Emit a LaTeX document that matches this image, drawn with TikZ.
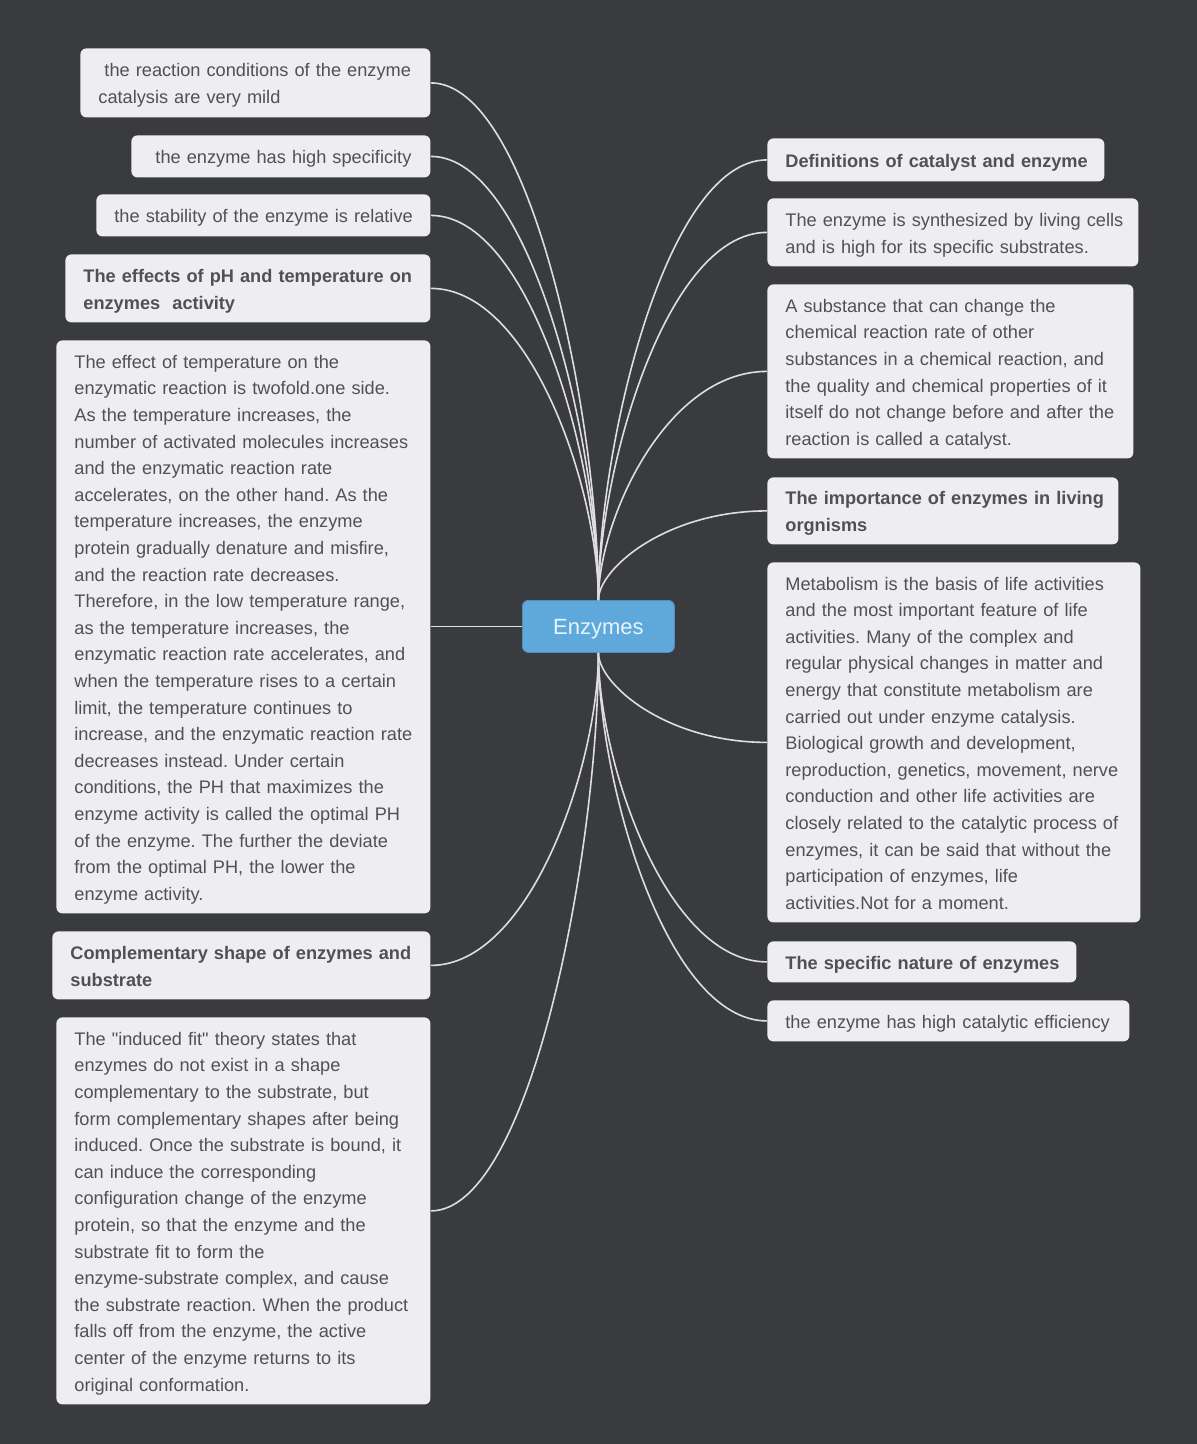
\documentclass[tikz,border=0pt]{standalone}
\usepackage{fontspec}
\usetikzlibrary{calc}
\setmainfont{Liberation Sans}
\frenchspacing
\definecolor{bgc}{RGB}{58,59,63}
\definecolor{boxc}{RGB}{238,237,241}
\definecolor{txtc}{RGB}{80,80,86}
\definecolor{ctrc}{RGB}{95,168,220}
\definecolor{ctrt}{RGB}{232,244,252}
\definecolor{linec}{RGB}{222,222,226}
\newcommand{\mylines}[1]{\raisebox{-1pt}[\height][\depth]{\begin{tabular}{@{}l@{}}#1\end{tabular}}}
\tikzset{
  box/.style={rectangle, rounded corners=3pt, fill=boxc, text=txtc, anchor=north west,
    font=\fontsize{9.1}{13.3}\selectfont\frenchspacing, align=left, inner xsep=9pt, inner ysep=0pt},
  hd/.style={box, font=\fontsize{9.1}{13.3}\selectfont\frenchspacing\bfseries},
  ctr/.style={rectangle, rounded corners=3pt, fill=ctrc, draw=ctrc!85!black, line width=0.4pt,
    text=ctrt, font=\fontsize{11}{13}\selectfont, anchor=north west, inner sep=0pt},
  conn/.style={draw=linec, line width=0.8pt},
  % from a box edge (horizontal) to the centre node (vertical)
  hv/.style={to path={let \p1=(\tikztostart), \p2=(\tikztotarget) in
    .. controls ({\x1+0.6*(\x2-\x1)},\y1) and (\x2,{\y2+0.35*(\y1-\y2)}) .. (\tikztotarget)}},
  % from the centre node (vertical) to a box edge (horizontal)
  vh/.style={to path={let \p1=(\tikztostart), \p2=(\tikztotarget) in
    .. controls (\x1,{\y1+0.35*(\y2-\y1)}) and ({\x2-0.6*(\x2-\x1)},\y2) .. (\tikztotarget)}}
}
\begin{document}
\begin{tikzpicture}[x=0.5pt,y=-0.5pt]
\fill[bgc] (0,0) rectangle (1197,1444);
\useasboundingbox (0,0) rectangle (1197,1444);

\node[ctr, minimum width=76pt, minimum height=26pt] (c) at (522,600) {\raisebox{-1.5pt}[\height][\depth]{Enzymes}};

% left column
\node[box, minimum width=175pt, minimum height=34.5pt, text width=157pt] (l1) at (80,48)
  {\mylines{\ the reaction conditions of the enzyme\\catalysis are very mild}};
\node[box, minimum width=149.5pt, minimum height=21pt, text width=131.5pt] (l2) at (131,135)
  {\mylines{\ the enzyme has high specificity}};
\node[box, minimum width=167pt, minimum height=21pt, text width=149pt] (l3) at (96,194)
  {\mylines{the stability of the enzyme is relative}};
\node[hd, minimum width=182.5pt, minimum height=34pt, text width=164.5pt] (l4) at (65,254)
  {\mylines{The effects of pH and temperature on\\enzymes\ \ activity}};
\node[box, minimum width=187pt, minimum height=286.5pt, text width=169pt] (l5) at (56,340)
  {\mylines{The effect of temperature on the\\
   enzymatic reaction is twofold.one side.\\
   As the temperature increases, the\\
   number of activated molecules increases\\
   and the enzymatic reaction rate\\
   accelerates, on the other hand. As the\\
   temperature increases, the enzyme\\
   protein gradually denature and misfire,\\
   and the reaction rate decreases.\\
   Therefore, in the low temperature range,\\
   as the temperature increases, the\\
   enzymatic reaction rate accelerates, and\\
   when the temperature rises to a certain\\
   limit, the temperature continues to\\
   increase, and the enzymatic reaction rate\\
   decreases instead. Under certain\\
   conditions, the PH that maximizes the\\
   enzyme activity is called the optimal PH\\
   of the enzyme. The further the deviate\\
   from the optimal PH, the lower the\\
   enzyme activity.}};
\node[hd, minimum width=189pt, minimum height=34pt, text width=171pt] (l6) at (52,931)
  {\mylines{Complementary shape of enzymes and\\substrate}};
\node[box, minimum width=187pt, minimum height=193.5pt, text width=169pt] (l7) at (56,1017)
  {\mylines{The \textquotedbl induced fit\textquotedbl{} theory states that\\
   enzymes do not exist in a shape\\
   complementary to the substrate, but\\
   form complementary shapes after being\\
   induced. Once the substrate is bound, it\\
   can induce the corresponding\\
   configuration change of the enzyme\\
   protein, so that the enzyme and the\\
   substrate fit to form the\\
   enzyme-substrate complex, and cause\\
   the substrate reaction. When the product\\
   falls off from the enzyme, the active\\
   center of the enzyme returns to its\\
   original conformation.}};

% right column
\node[hd, minimum width=168.5pt, minimum height=21.5pt, text width=150.5pt] (r1) at (767,138)
  {\mylines{Definitions of catalyst and enzyme}};
\node[box, minimum width=185.5pt, minimum height=34pt, text width=167.5pt] (r2) at (767,198)
  {\mylines{The enzyme is synthesized by living cells\\and is high for its specific substrates.}};
\node[box, minimum width=183pt, minimum height=87pt, text width=165pt] (r3) at (767,284)
  {\mylines{A substance that can change the\\
   chemical reaction rate of other\\
   substances in a chemical reaction, and\\
   the quality and chemical properties of it\\
   itself do not change before and after the\\
   reaction is called a catalyst.}};
\node[hd, minimum width=175.5pt, minimum height=33.5pt, text width=157.5pt] (r4) at (767,477)
  {\mylines{The importance of enzymes in living\\orgnisms}};
\node[box, minimum width=186.5pt, minimum height=180pt, text width=168.5pt] (r5) at (767,562)
  {\mylines{Metabolism is the basis of life activities\\
   and the most important feature of life\\
   activities. Many of the complex and\\
   regular physical changes in matter and\\
   energy that constitute metabolism are\\
   carried out under enzyme catalysis.\\
   Biological growth and development,\\
   reproduction, genetics, movement, nerve\\
   conduction and other life activities are\\
   closely related to the catalytic process of\\
   enzymes, it can be said that without the\\
   participation of enzymes, life\\
   activities.Not for a moment.}};
\node[hd, minimum width=154.5pt, minimum height=20.5pt, text width=136.5pt] (r6) at (767,941)
  {\mylines{The specific nature of enzymes}};
\node[box, minimum width=181pt, minimum height=20.5pt, text width=163pt] (r7) at (767,1000)
  {\mylines{the enzyme has high catalytic efficiency}};

% connectors
\begin{scope}[conn]
\draw (l1.east) to[hv] (c.north);
\draw (l2.east) to[hv] (c.north);
\draw (l3.east) to[hv] (c.north);
\draw (l4.east) to[hv] (c.north);
\draw (l5.east |- c.west) -- (c.west);
\draw (l6.east) to[hv] (c.south);
\draw (l7.east) to[hv] (c.south);
\draw (c.north) to[vh] (r1.west);
\draw (c.north) to[vh] (r2.west);
\draw (c.north) to[vh] (r3.west);
\draw (c.north) to[vh] (r4.west);
\draw (c.south) to[vh] (r5.west);
\draw (c.south) to[vh] (r6.west);
\draw (c.south) to[vh] (r7.west);
\end{scope}
\end{tikzpicture}
\end{document}
